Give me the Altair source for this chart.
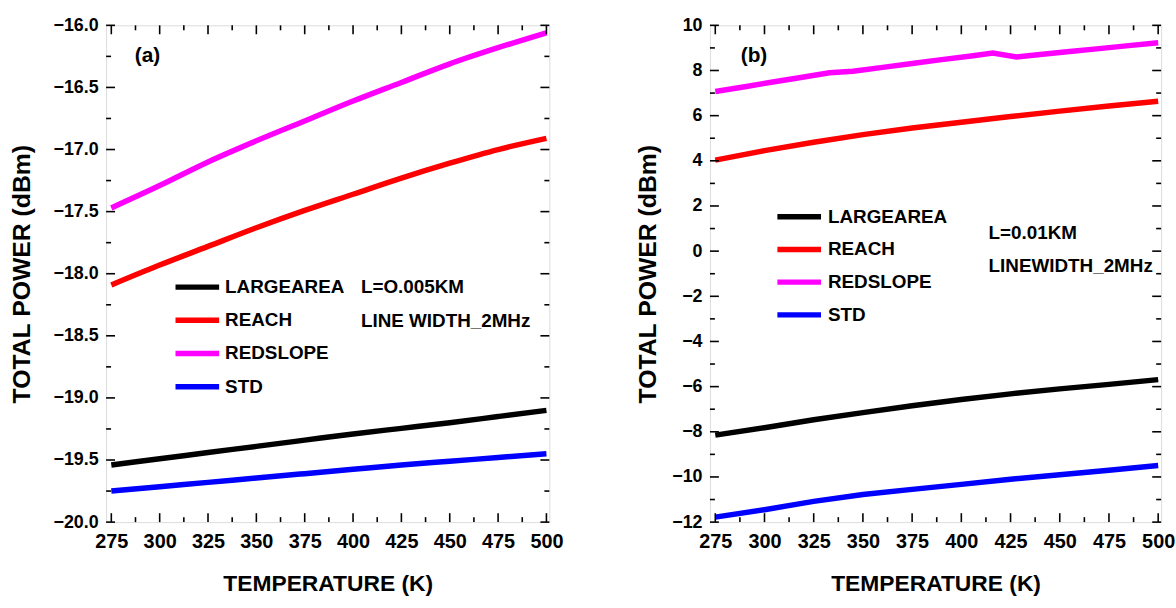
import altair as alt
import pandas as pd

# ---------------- data ----------------
series = ["LARGEAREA", "REACH", "REDSLOPE", "STD"]
colors = ["#000000", "#FF0000", "#FF00FF", "#0000FF"]

temps = [275, 300, 325, 350, 375, 400, 425, 450, 475, 500]

# panel (a): L = 0.005 km
a_largearea = [-19.54, -19.49, -19.44, -19.39, -19.34, -19.29, -19.245, -19.20, -19.15, -19.10]
a_reach = [-18.09, -17.93, -17.78, -17.63, -17.49, -17.36, -17.23, -17.11, -17.00, -16.91]
a_redslope = [-17.47, -17.29, -17.10, -16.93, -16.77, -16.61, -16.46, -16.31, -16.18, -16.06]
a_std = [-19.75, -19.715, -19.68, -19.645, -19.61, -19.575, -19.54, -19.51, -19.48, -19.45]

# panel (b): L = 0.01 km
b_largearea = [-8.15, -7.82, -7.47, -7.15, -6.85, -6.57, -6.32, -6.10, -5.90, -5.69]
b_reach = [4.03, 4.45, 4.82, 5.16, 5.45, 5.71, 5.96, 6.20, 6.43, 6.64]
b_redslope_t = [275, 290, 305, 320, 333, 345, 360, 375, 390, 405, 416, 428, 440, 455, 470, 485, 500]
b_redslope = [7.07, 7.28, 7.50, 7.71, 7.90, 7.97, 8.14, 8.31, 8.48, 8.64, 8.77, 8.60, 8.71, 8.84, 8.97, 9.10, 9.23]
b_std = [-11.78, -11.45, -11.08, -10.78, -10.55, -10.33, -10.10, -9.90, -9.70, -9.49]

x_major = [275, 300, 325, 350, 375, 400, 425, 450, 475, 500]
x_minor = [287.5, 312.5, 337.5, 362.5, 387.5, 412.5, 437.5, 462.5, 487.5]
a_y_major = [-20.0, -19.5, -19.0, -18.5, -18.0, -17.5, -17.0, -16.5, -16.0]
a_y_minor = [-19.75, -19.25, -18.75, -18.25, -17.75, -17.25, -16.75, -16.25]
b_y_major = [-12, -10, -8, -6, -4, -2, 0, 2, 4, 6, 8, 10]
b_y_minor = [-11, -9, -7, -5, -3, -1, 1, 3, 5, 7, 9]

X_DOMAIN = [272.3, 501.5]

FONT = "Liberation Sans, Arial, Helvetica, sans-serif"


def long_frame(rows):
    recs = []
    for name, xs, ys in rows:
        for t, p in zip(xs, ys):
            recs.append({"T": t, "P": p, "S": name})
    return pd.DataFrame(recs)


def tick_layers(xscale, yscale, xmaj, xmin, ymaj, ymin, W, H):
    """Inward ticks on all four sides of the frame."""
    layers = []
    for vals, ln in ((xmaj, 9), (xmin, 5)):
        d = pd.DataFrame({"v": vals})
        base = alt.Chart(d).mark_rule(color="black", strokeWidth=1.6)
        layers.append(base.encode(x=alt.X("v:Q", scale=xscale), y=alt.value(H), y2=alt.value(H - ln)))
        layers.append(base.encode(x=alt.X("v:Q", scale=xscale), y=alt.value(0), y2=alt.value(ln)))
    for vals, ln in ((ymaj, 9), (ymin, 5)):
        d = pd.DataFrame({"v": vals})
        base = alt.Chart(d).mark_rule(color="black", strokeWidth=1.6)
        layers.append(base.encode(y=alt.Y("v:Q", scale=yscale), x=alt.value(0), x2=alt.value(ln)))
        layers.append(base.encode(y=alt.Y("v:Q", scale=yscale), x=alt.value(W), x2=alt.value(W - ln)))
    return layers


def text_layer(txt, x, y, size):
    return alt.Chart(pd.DataFrame({"t": [txt]})).mark_text(
        font=FONT, fontSize=size, fontWeight="bold", align="left", baseline="middle", color="black"
    ).encode(text="t:N", x=alt.value(x), y=alt.value(y))


def panel(df, ydomain, ymaj, ymin, yfmt, W, H, interp, leg, tag, tag_xy, notes, note_xy, title_pad):
    xscale = alt.Scale(domain=X_DOMAIN, nice=False, zero=False)
    yscale = alt.Scale(domain=ydomain, nice=False, zero=False)
    cscale = alt.Scale(domain=series, range=colors)
    lines = alt.Chart(df).mark_line(strokeWidth=5.5, clip=True, interpolate=interp).encode(
        x=alt.X(
            "T:Q",
            scale=xscale,
            axis=alt.Axis(
                values=x_major, format="d", ticks=False, domain=False, grid=False,
                labelFont=FONT, labelFontSize=20, labelFontWeight="bold", labelColor="black",
                labelPadding=10, title="TEMPERATURE (K)", titleFont=FONT, titleFontSize=23,
                titleFontWeight="bold", titleColor="black", titlePadding=21,
            ),
        ),
        y=alt.Y(
            "P:Q",
            scale=yscale,
            axis=alt.Axis(
                values=ymaj, format=yfmt, ticks=False, domain=False, grid=False,
                labelFont=FONT, labelFontSize=18, labelFontWeight="bold", labelColor="black",
                labelPadding=8, title="TOTAL POWER (dBm)", titleFont=FONT, titleFontSize=25,
                titleFontWeight="bold", titleColor="black", titlePadding=title_pad,
            ),
        ),
        color=alt.Color("S:N", scale=cscale, legend=None),
        detail="S:N",
    )

    # key: one short thick stroke and a name per series
    key = []
    x0, x1, xl, y0, dy = leg
    for i, (name, col) in enumerate(zip(series, colors)):
        key.append(
            alt.Chart(pd.DataFrame({"S": [name]})).mark_rule(strokeWidth=5.5, color=col).encode(
                x=alt.value(x0), x2=alt.value(x1), y=alt.value(y0 + dy * i)
            )
        )
        key.append(text_layer(name, xl, y0 + dy * i, 19))

    extra = [text_layer(tag, tag_xy[0], tag_xy[1], 21)]
    for i, txt in enumerate(notes):
        extra.append(text_layer(txt, note_xy[0], note_xy[1] + 34 * i, 19))

    layers = [lines] + tick_layers(xscale, yscale, x_major, x_minor, ymaj, ymin, W, H) + key + extra
    return alt.layer(*layers).properties(width=W, height=H)


df_a = long_frame([
    ("LARGEAREA", temps, a_largearea),
    ("REACH", temps, a_reach),
    ("REDSLOPE", temps, a_redslope),
    ("STD", temps, a_std),
])
df_b = long_frame([
    ("LARGEAREA", temps, b_largearea),
    ("REACH", temps, b_reach),
    ("REDSLOPE", b_redslope_t, b_redslope),
    ("STD", temps, b_std),
])

left = panel(df_a, [-20, -16], a_y_major, a_y_minor, ".1f", 447, 501, "monotone",
             (70, 114, 120, 264, 33.5), "(a)", (29, 31),
             ["L=O.005KM", "LINE WIDTH_2MHz"], (257, 264), 19)
right = panel(df_b, [-12, 10], b_y_major, b_y_minor, "d", 455, 501, "linear",
              (68, 112, 119, 193, 33), "(b)", (31, 31),
              ["L=0.01KM", "LINEWIDTH_2MHz"], (281, 209), 11)

chart = (
    alt.hconcat(left, right, spacing=71)
    .properties(padding={"left": 8, "top": 13, "right": 0, "bottom": 0})
    .configure_view(stroke="black", strokeWidth=2)
    .configure(background="white")
)

chart.save("out.html", embed_options={"renderer": "svg", "actions": False})
